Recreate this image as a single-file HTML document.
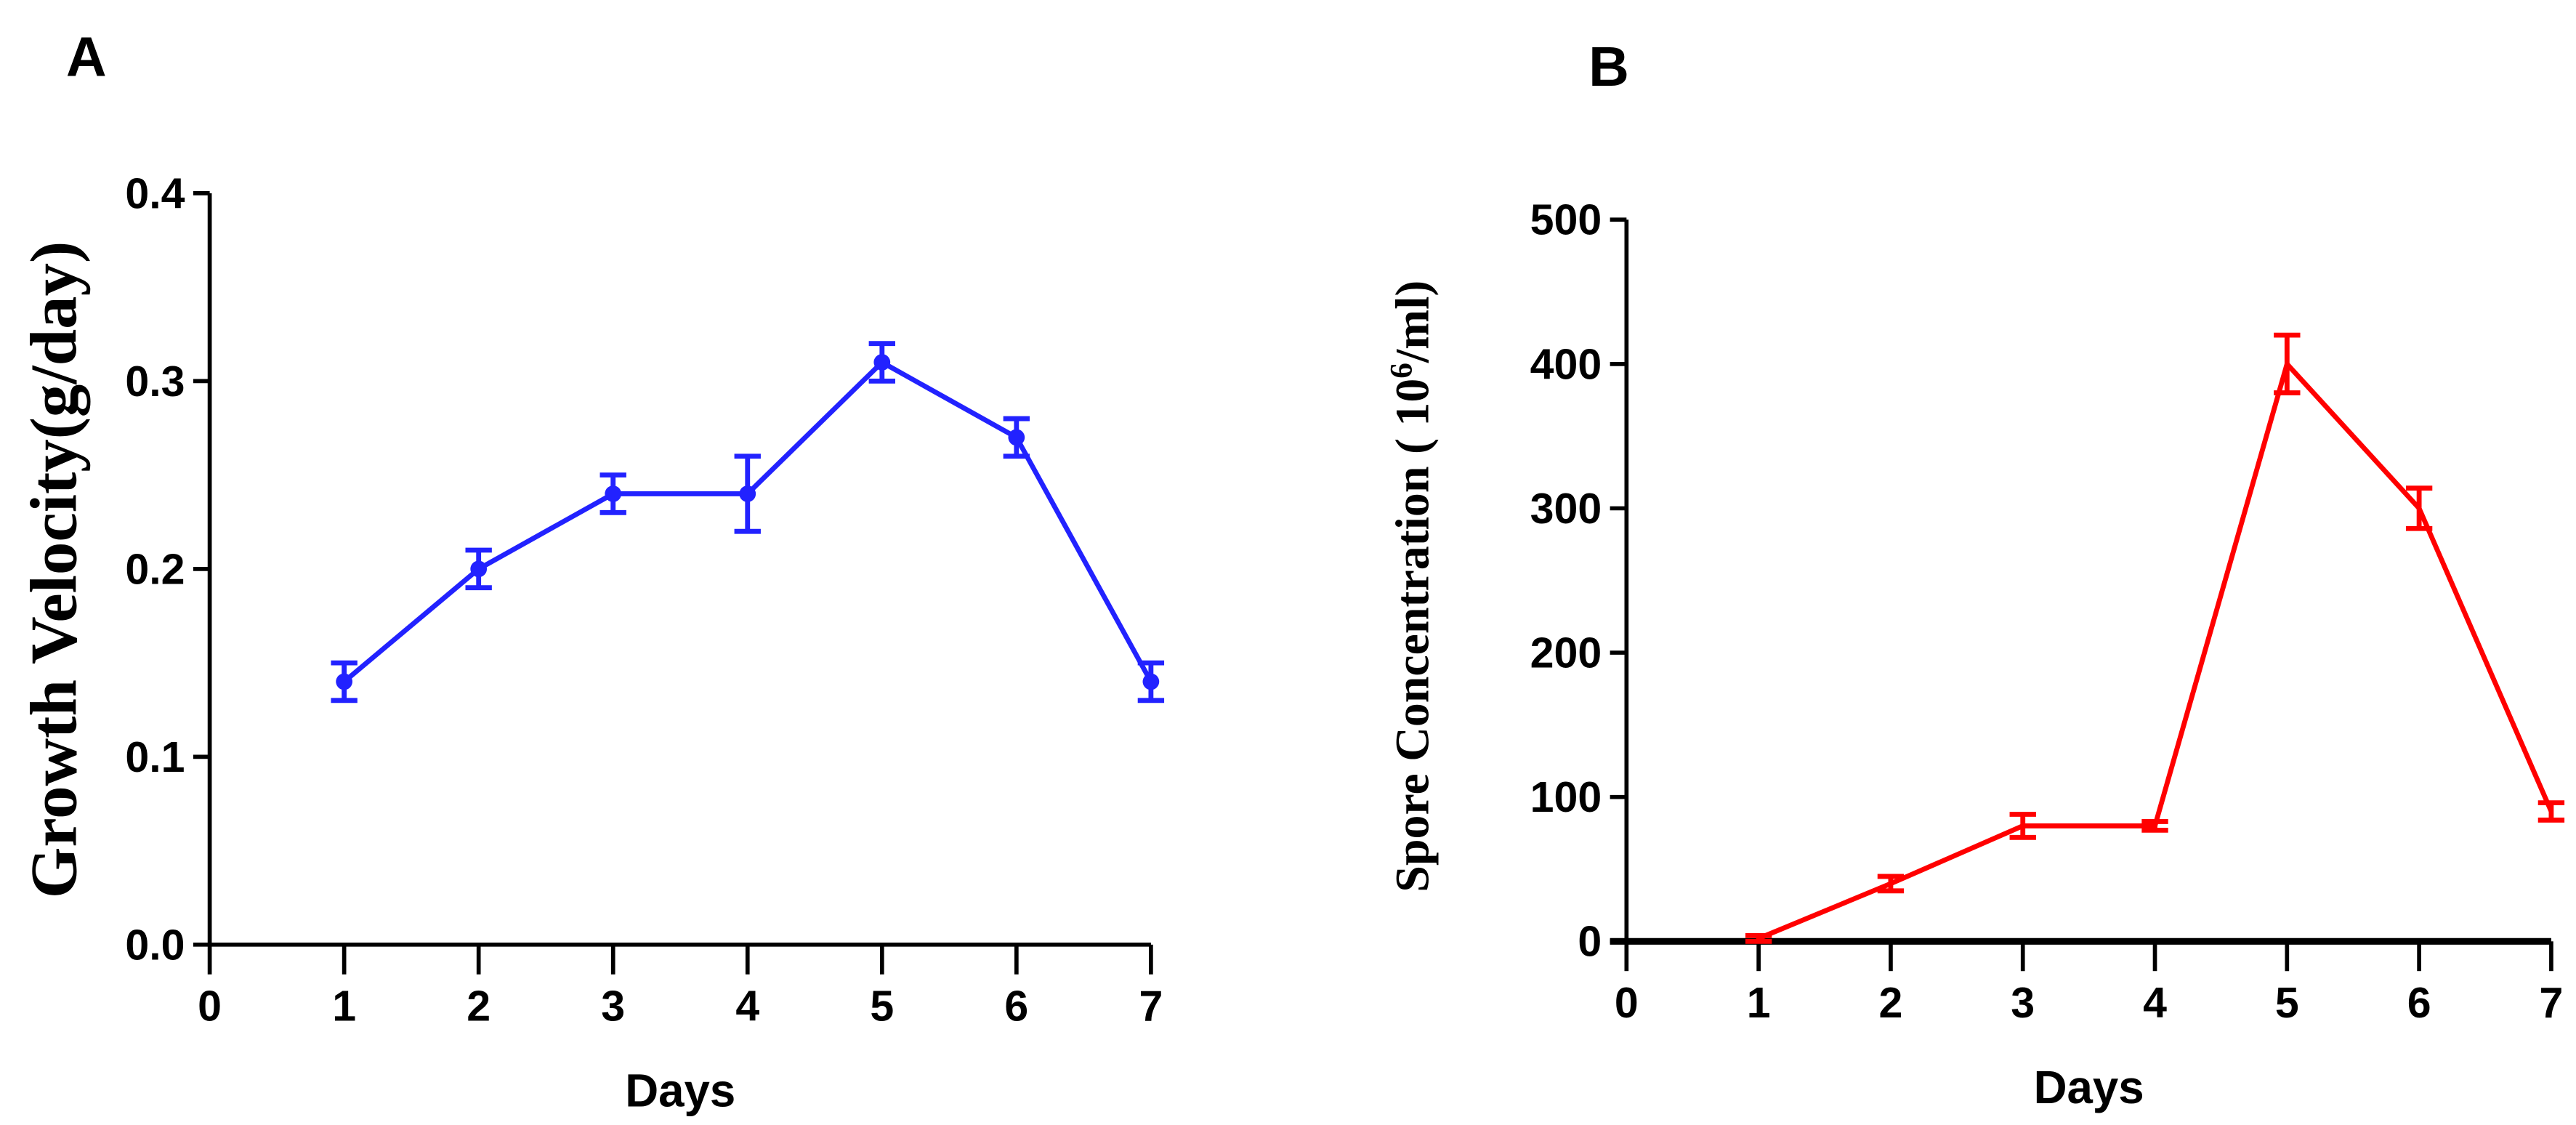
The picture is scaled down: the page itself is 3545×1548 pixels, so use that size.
<!DOCTYPE html>
<html><head><meta charset="utf-8"><style>
html,body{margin:0;padding:0;background:#fff;}
svg{display:block;}
text{font-family:"Liberation Sans",sans-serif;font-weight:bold;fill:#000;}
.serif{font-family:"Liberation Serif",serif;}
</style></head><body>
<svg id="fig" width="3545" height="1548" viewBox="0 0 1560 681.2" xmlns="http://www.w3.org/2000/svg">
<text x="40" y="46" font-size="34">A</text>
<text x="962" y="52" font-size="34">B</text>
<g id="pa"></g>
<g id="pb"></g>
</svg>
<script>
const days = [1,2,3,4,5,6,7];
const xTicks = [0,1,2,3,4,5,6,7];
const growthValues = [0.14,0.20,0.24,0.24,0.31,0.27,0.14];
const growthErrors = [0.01,0.01,0.01,0.02,0.01,0.01,0.01];
const growthTicks = [0.0,0.1,0.2,0.3,0.4];
const growthTickLabels = ["0.0","0.1","0.2","0.3","0.4"];
const sporeValues = [2,40,80,80,400,300,90];
const sporeErrors = [2,5,8,3,20,14,6];
const sporeTicks = [0,100,200,300,400,500];
const sporeTickLabels = ["0","100","200","300","400","500"];

const NS="http://www.w3.org/2000/svg";
function mk(parent,tag,attrs){const e=document.createElementNS(NS,tag);for(const k in attrs)e.setAttribute(k,attrs[k]);parent.appendChild(e);return e;}

function drawPanel(g,cfg){
  const sx=v=>cfg.x0+(v-0)*(cfg.x1-cfg.x0)/7;
  const sy=v=>cfg.y0-(v-cfg.ymin)*(cfg.y0-cfg.y1)/(cfg.ymax-cfg.ymin);
  let a=mk(g,'line',{x1:cfg.x0,y1:sy(cfg.ymax),x2:cfg.x0,y2:cfg.y0,stroke:'#000','stroke-width':2.5});
  
  
  a=mk(g,'line',{x1:cfg.x0-(cfg.xAxisExt||0),y1:cfg.y0,x2:cfg.x1,y2:cfg.y0,stroke:'#000','stroke-width':cfg.xw});
  
  
  cfg.yticks.forEach((t,i)=>{
    const l=mk(g,'line',{x1:cfg.x0-10,y1:sy(t),x2:cfg.x0,y2:sy(t),stroke:'#000','stroke-width':2.5});
    
    
    const tx=mk(g,'text',{x:cfg.x0-15,y:sy(t)+9,'font-size':cfg.tfs,'text-anchor':'end'});
    tx.textContent=cfg.ylabels[i];
    
    
  });
  xTicks.forEach(t=>{
    const l=mk(g,'line',{x1:sx(t),y1:cfg.y0,x2:sx(t),y2:cfg.y0+18,stroke:'#000','stroke-width':2.5});
    
    
    const tx=mk(g,'text',{x:sx(t),y:cfg.y0+46,'font-size':cfg.tfs,'text-anchor':'middle'});
    tx.textContent=String(t);
    
    
  });
  let xt=mk(g,'text',{x:(cfg.x0+cfg.x1)/2,y:cfg.y0+98,'font-size':28,'text-anchor':'middle'});
  xt.textContent='Days';
  
  
  let yt=mk(g,'text',{x:0,y:0,'font-size':cfg.yfs,'text-anchor':'middle',class:'serif',transform:`translate(${cfg.ytx},${cfg.yty}) rotate(-90)`});
  yt.innerHTML=cfg.ytitle;
  
  
  const pts=days.map((d,i)=>sx(d)+','+sy(cfg.vals[i])).join(' ');
  const pl=mk(g,'polyline',{points:pts,fill:'none',stroke:cfg.color,'stroke-width':3});
  
  
  days.forEach((d,i)=>{
    const x=sx(d),v=cfg.vals[i],e=cfg.errs[i];
    const top=sy(v+e),bot=sy(Math.max(cfg.ymin,v-e));
    const eb=mk(g,'path',{d:`M${x},${top}V${bot}M${x-8},${top}H${x+8}M${x-8},${bot}H${x+8}`,stroke:cfg.color,'stroke-width':3,fill:'none'});
    
    
    if(cfg.marker){
      const c=mk(g,'circle',{cx:x,cy:sy(v),r:5,fill:cfg.color});
      
      
    }
  });
}
drawPanel(document.getElementById('pa'),{x0:127,x1:697,y0:572,y1:117,ymin:0,ymax:0.4,yticks:growthTicks,ylabels:growthTickLabels,vals:growthValues,errs:growthErrors,color:'#2222ff',marker:true,tfs:26,xw:2.5,ytx:46,yty:345,yfs:40,ytitle:'Growth Velocity(g/day)'});
drawPanel(document.getElementById('pb'),{x0:985,x1:1545,y0:570,y1:133,ymin:0,ymax:500,yticks:sporeTicks,ylabels:sporeTickLabels,vals:sporeValues,errs:sporeErrors,color:'#ff0000',marker:false,tfs:26,xw:4,xAxisExt:10,ytx:865,yty:355,yfs:29,ytitle:'Spore Concentration ( 10<tspan baseline-shift="super" font-size="19">6</tspan>/ml)'});
</script>
</body></html>
